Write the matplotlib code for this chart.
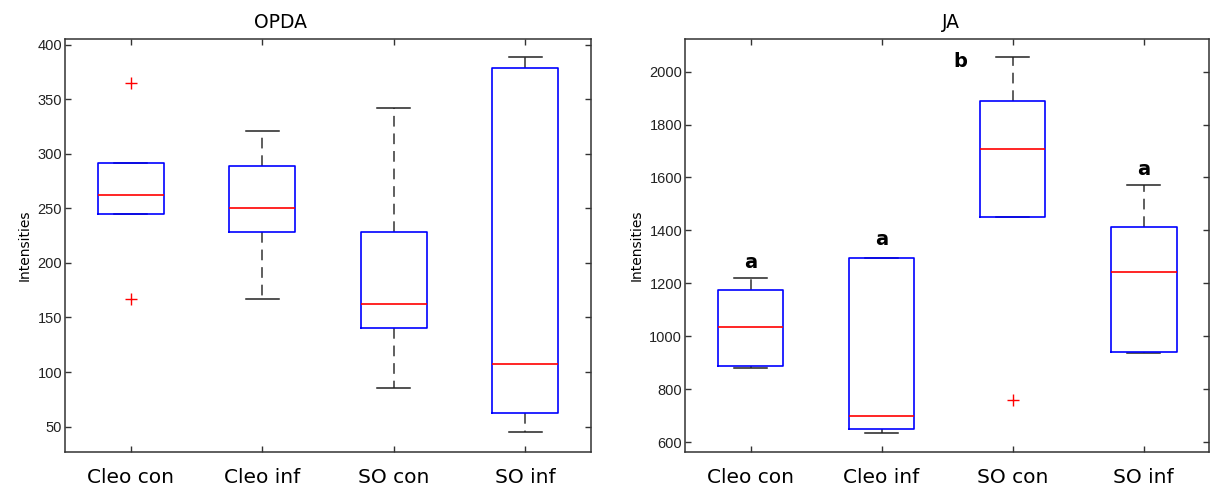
import matplotlib.pyplot as plt

# group names
groups = ['Cleo con', 'Cleo inf', 'SO con', 'SO inf']

# OPDA box statistics
opda_q1 = [245, 228, 140, 62]
opda_med = [262, 250, 162, 107]
opda_q3 = [292, 289, 228, 379]
opda_lo = [245, 167, 85, 45]
opda_hi = [292, 321, 342, 389]
opda_out = [[365, 167], [], [], []]

# JA box statistics
ja_q1 = [887, 650, 1449, 941]
ja_med = [1034, 697, 1709, 1243]
ja_q3 = [1175, 1297, 1887, 1411]
ja_lo = [882, 636, 1449, 937]
ja_hi = [1220, 1297, 2055, 1572]
ja_out = [[], [], [761], []]

# significance letters
ja_letters = ['a', 'a', 'b', 'a']
ja_letter_x = [1, 2, 2.6, 4]
ja_letter_y = [1280, 1367, 2038, 1629]


def make_stats(q1, med, q3, lo, hi, out):
    stats = []
    for i in range(len(groups)):
        stats.append(dict(label=groups[i], q1=q1[i], med=med[i], q3=q3[i],
                          whislo=lo[i], whishi=hi[i], fliers=out[i]))
    return stats


def draw(ax, stats, title, title_x, ylim, yticks):
    ax.bxp(stats, positions=[1, 2, 3, 4], widths=0.5,
           boxprops=dict(color='#0000ff', linewidth=1.2, zorder=3),
           medianprops=dict(color='#ff0000', linewidth=1.2, zorder=4),
           whiskerprops=dict(color='#333333', linewidth=1.1,
                             linestyle=(0, (7, 4.5)), zorder=2),
           capprops=dict(color='#222222', linewidth=1.1, zorder=2),
           capwidths=0.25,
           flierprops=dict(marker='+', markeredgecolor='#ff0000', markersize=8,
                           markeredgewidth=1.0, linestyle='none'))
    ax.set_xlim(0.5, 4.5)
    ax.set_ylim(*ylim)
    ax.set_yticks(yticks)
    ax.set_title(title, fontsize=13.5, x=title_x, pad=8)
    ax.set_ylabel('Intensities', fontsize=10, labelpad=4)
    ax.tick_params(direction='in', top=True, right=True, length=4.5,
                   width=1, color='#333333')
    ax.tick_params(axis='x', labelsize=14.5, pad=12)
    ax.tick_params(axis='y', labelsize=10.5, pad=2)
    for lab in ax.get_yticklabels():
        lab.set_family('Liberation Sans')
        lab.set_color('#222222')
    for sp in ax.spines.values():
        sp.set_color('#333333')
        sp.set_linewidth(1.1)


fig = plt.figure(figsize=(12.1, 4.9), dpi=100)
ax1 = fig.add_axes([0.0537, 0.0782, 0.4347, 0.8416])
ax2 = fig.add_axes([0.5661, 0.0782, 0.4333, 0.8416])

draw(ax1, make_stats(opda_q1, opda_med, opda_q3, opda_lo, opda_hi, opda_out),
     'OPDA', 0.41, (27, 405), [50, 100, 150, 200, 250, 300, 350, 400])

draw(ax2, make_stats(ja_q1, ja_med, ja_q3, ja_lo, ja_hi, ja_out),
     'JA', 0.508, (564, 2122), [600, 800, 1000, 1200, 1400, 1600, 1800, 2000])

for t, x, y in zip(ja_letters, ja_letter_x, ja_letter_y):
    ax2.text(x, y, t, fontsize=14, fontweight='bold', ha='center', va='center')

fig.savefig('out.png', dpi=100)
